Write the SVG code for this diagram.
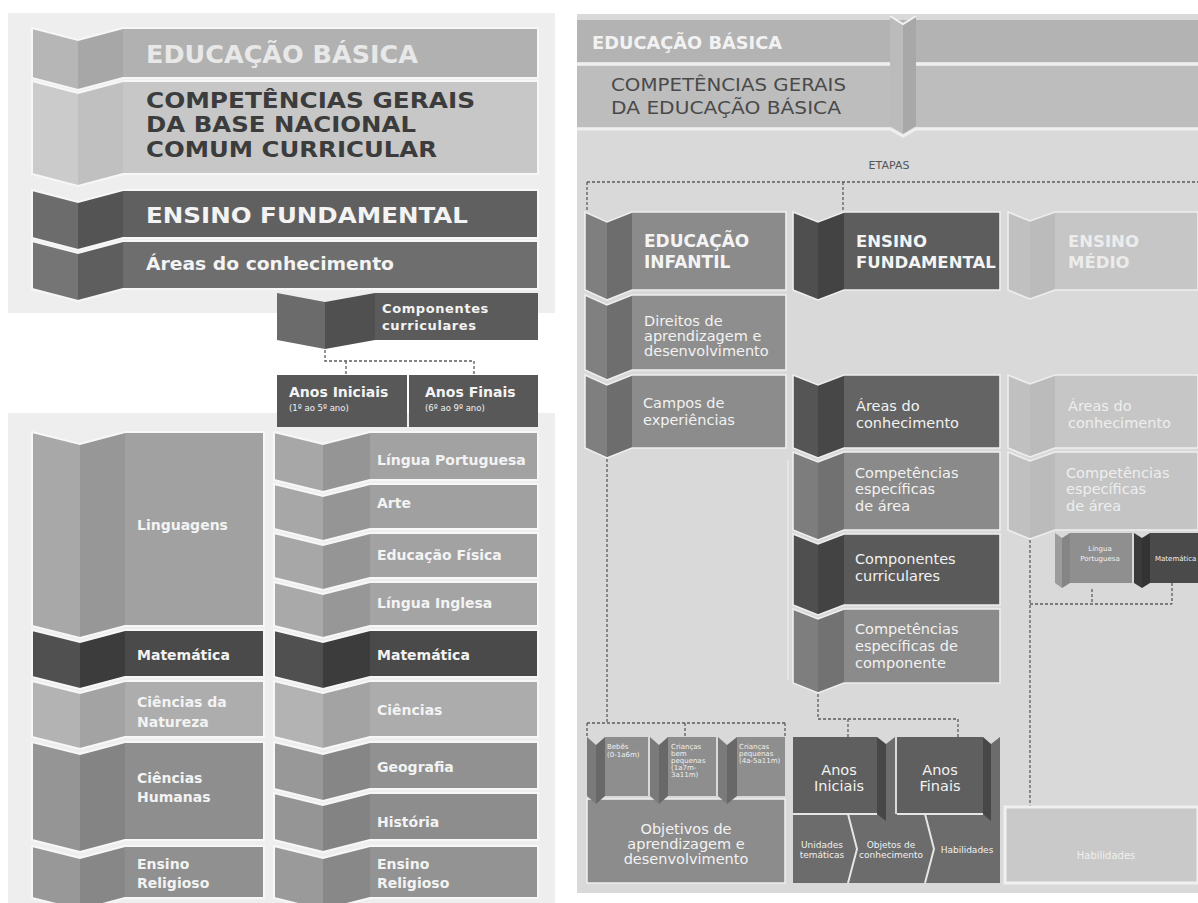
<svg xmlns="http://www.w3.org/2000/svg" width="1198" height="903" viewBox="0 0 1198 903">
<defs>
<style>
text{font-family:"DejaVu Sans","Liberation Sans",sans-serif}
.b{font-weight:bold}
.w{fill:#f3f3f3}
.ol{fill:none;stroke:#f7f7f7;stroke-width:2}
.olr{fill:none;stroke:#eeeeee;stroke-width:1.6}
.dash{fill:none;stroke:#5c5c5c;stroke-width:1.3;stroke-dasharray:3 2}
.lc{font-size:14px;font-weight:bold;fill:#f3f3f3}
.rc{font-size:14.5px;fill:#f2f2f2}
.em{font-size:14.5px;fill:#eeeeee}
.tiny{font-size:7px;fill:#f0f0f0}
.sm{font-size:9px;fill:#f0f0f0}
</style>
</defs>
<rect width="1198" height="903" fill="#ffffff"/>
<rect x="8" y="13" width="547" height="300" fill="#eeeeee"/>
<rect x="8" y="413" width="547" height="490" fill="#eeeeee"/>
<rect x="577" y="14" width="621" height="879" fill="#d9d9d9"/>

<!-- LEFT PANEL TOP -->
<g id="l-educacao-basica">
<polygon points="32,28 78,40 78,90 32,78" fill="#b6b6b6"/>
<polygon points="78,40 123,28 123,78 78,90" fill="#a7a7a7"/>
<rect x="123" y="28" width="415" height="50" fill="#b1b1b1"/>
<path class="ol" d="M32 28L78 40L123 28H538V78H123L78 90L32 78Z"/>
<text x="146" y="63" class="b" font-size="24" textLength="272" lengthAdjust="spacingAndGlyphs" fill="#e8e8e8">EDUCAÇÃO BÁSICA</text>
</g>
<g id="l-competencias">
<polygon points="32,81 78,93 78,186 32,174" fill="#cbcbcb"/>
<polygon points="78,93 123,81 123,174 78,186" fill="#c0c0c0"/>
<rect x="123" y="81" width="415" height="93" fill="#c7c7c7"/>
<path class="ol" d="M32 81L78 93L123 81H538V174H123L78 186L32 174Z"/>
<text class="b" font-size="21" fill="#3c3c3c">
<tspan x="146" y="108" textLength="329" lengthAdjust="spacingAndGlyphs">COMPETÊNCIAS GERAIS</tspan>
<tspan x="146" y="132" textLength="270" lengthAdjust="spacingAndGlyphs">DA BASE NACIONAL</tspan>
<tspan x="146" y="157" textLength="291" lengthAdjust="spacingAndGlyphs">COMUM CURRICULAR</tspan>
</text>
</g>
<g id="l-ensino-fundamental">
<polygon points="32,190 78,202 78,250 32,238" fill="#6c6c6c"/>
<polygon points="78,202 123,190 123,238 78,250" fill="#545454"/>
<rect x="123" y="190" width="415" height="48" fill="#606060"/>
<path class="ol" d="M32 190L78 202L123 190H538V238H123L78 250L32 238Z"/>
<text x="146" y="223" class="b w" font-size="21" textLength="322" lengthAdjust="spacingAndGlyphs">ENSINO FUNDAMENTAL</text>
</g>
<g id="l-areas">
<polygon points="32,241 78,253 78,301 32,289" fill="#757575"/>
<polygon points="78,253 123,241 123,289 78,301" fill="#5e5e5e"/>
<rect x="123" y="241" width="415" height="48" fill="#6e6e6e"/>
<path class="ol" d="M32 241L78 253L123 241H538V289H123L78 301L32 289Z"/>
<text x="146" y="270" class="b w" font-size="18" textLength="248" lengthAdjust="spacingAndGlyphs">Áreas do conhecimento</text>
</g>
<g id="l-componentes">
<polygon points="277,293 325,302 325,349 277,340" fill="#6b6b6b"/>
<polygon points="325,302 375,293 375,340 325,349" fill="#505050"/>
<rect x="375" y="293" width="163" height="47" fill="#5b5b5b"/>
<text class="b w" font-size="13" letter-spacing="0.6"><tspan x="382" y="313">Componentes</tspan><tspan x="382" y="330">curriculares</tspan></text>
</g>
<g id="l-anos-iniciais">
<rect x="277" y="375" width="130" height="52" fill="#585858"/>
<text x="289" y="397" class="b w" font-size="14">Anos Iniciais</text>
<text x="289" y="411" class="w" font-size="8.5">(1º ao 5º ano)</text>
</g>
<g id="l-anos-finais">
<rect x="409" y="375" width="129" height="52" fill="#585858"/>
<text x="425" y="397" class="b w" font-size="14">Anos Finais</text>
<text x="425" y="411" class="w" font-size="8.5">(6º ao 9º ano)</text>
</g>

<!-- LEFT PANEL LOWER: areas column -->
<g id="l-linguagens">
<polygon points="32,432 80,444 80,638 32,626" fill="#a8a8a8"/>
<polygon points="80,444 125,432 125,626 80,638" fill="#979797"/>
<rect x="125" y="432" width="139" height="194" fill="#a1a1a1"/>
<path class="ol" d="M32 432L80 444L125 432H264V626H125L80 638L32 626Z"/>
<text x="137" y="530" class="lc">Linguagens</text>
</g>
<g id="l-matematica-a">
<polygon points="32,630 80,642 80,689 32,677" fill="#505050"/>
<polygon points="80,642 125,630 125,677 80,689" fill="#3c3c3c"/>
<rect x="125" y="630" width="139" height="47" fill="#4a4a4a"/>
<path class="ol" d="M32 630L80 642L125 630H264V677H125L80 689L32 677Z"/>
<text x="137" y="660" class="lc">Matemática</text>
</g>
<g id="l-ciencias-natureza">
<polygon points="32,681 80,693 80,749 32,737" fill="#b3b3b3"/>
<polygon points="80,693 125,681 125,737 80,749" fill="#a3a3a3"/>
<rect x="125" y="681" width="139" height="56" fill="#adadad"/>
<path class="ol" d="M32 681L80 693L125 681H264V737H125L80 749L32 737Z"/>
<text class="lc"><tspan x="137" y="707">Ciências da</tspan><tspan x="137" y="727">Natureza</tspan></text>
</g>
<g id="l-ciencias-humanas">
<polygon points="32,742 80,754 80,852 32,840" fill="#959595"/>
<polygon points="80,754 125,742 125,840 80,852" fill="#848484"/>
<rect x="125" y="742" width="139" height="98" fill="#8e8e8e"/>
<path class="ol" d="M32 742L80 754L125 742H264V840H125L80 852L32 840Z"/>
<text class="lc"><tspan x="137" y="783">Ciências</tspan><tspan x="137" y="802">Humanas</tspan></text>
</g>
<g id="l-ensino-religioso-a">
<polygon points="32,846 80,858 80,910 32,898" fill="#989898"/>
<polygon points="80,858 125,846 125,898 80,910" fill="#878787"/>
<rect x="125" y="846" width="139" height="52" fill="#909090"/>
<path class="ol" d="M32 846L80 858L125 846H264V898H125L80 910L32 898Z"/>
<text class="lc"><tspan x="137" y="869">Ensino</tspan><tspan x="137" y="888">Religioso</tspan></text>
</g>

<!-- LEFT PANEL LOWER: components column -->
<g id="l-lingua-portuguesa">
<polygon points="274,432 323,444 323,492 274,480" fill="#a7a7a7"/>
<polygon points="323,444 370,432 370,480 323,492" fill="#959595"/>
<rect x="370" y="432" width="168" height="48" fill="#a2a2a2"/>
<path class="ol" d="M274 432L323 444L370 432H538V480H370L323 492L274 480Z"/>
<text x="377" y="465" class="lc">Língua Portuguesa</text>
</g>
<g id="l-arte">
<polygon points="274,484 323,496 323,541 274,529" fill="#a7a7a7"/>
<polygon points="323,496 370,484 370,529 323,541" fill="#959595"/>
<rect x="370" y="484" width="168" height="45" fill="#a0a0a0"/>
<path class="ol" d="M274 484L323 496L370 484H538V529H370L323 541L274 529Z"/>
<text x="377" y="508" class="lc">Arte</text>
</g>
<g id="l-educacao-fisica">
<polygon points="274,533 323,545 323,590 274,578" fill="#a7a7a7"/>
<polygon points="323,545 370,533 370,578 323,590" fill="#959595"/>
<rect x="370" y="533" width="168" height="45" fill="#a2a2a2"/>
<path class="ol" d="M274 533L323 545L370 533H538V578H370L323 590L274 578Z"/>
<text x="377" y="560" class="lc">Educação Física</text>
</g>
<g id="l-lingua-inglesa">
<polygon points="274,582 323,594 323,638 274,626" fill="#a9a9a9"/>
<polygon points="323,594 370,582 370,626 323,638" fill="#979797"/>
<rect x="370" y="582" width="168" height="44" fill="#a4a4a4"/>
<path class="ol" d="M274 582L323 594L370 582H538V626H370L323 638L274 626Z"/>
<text x="377" y="608" class="lc">Língua Inglesa</text>
</g>
<g id="l-matematica-b">
<polygon points="274,630 323,642 323,689 274,677" fill="#505050"/>
<polygon points="323,642 370,630 370,677 323,689" fill="#3c3c3c"/>
<rect x="370" y="630" width="168" height="47" fill="#4a4a4a"/>
<path class="ol" d="M274 630L323 642L370 630H538V677H370L323 689L274 677Z"/>
<text x="377" y="660" class="lc">Matemática</text>
</g>
<g id="l-ciencias">
<polygon points="274,681 323,693 323,749 274,737" fill="#b3b3b3"/>
<polygon points="323,693 370,681 370,737 323,749" fill="#a3a3a3"/>
<rect x="370" y="681" width="168" height="56" fill="#acacac"/>
<path class="ol" d="M274 681L323 693L370 681H538V737H370L323 749L274 737Z"/>
<text x="377" y="715" class="lc">Ciências</text>
</g>
<g id="l-geografia">
<polygon points="274,742 323,754 323,801 274,789" fill="#989898"/>
<polygon points="323,754 370,742 370,789 323,801" fill="#868686"/>
<rect x="370" y="742" width="168" height="47" fill="#919191"/>
<path class="ol" d="M274 742L323 754L370 742H538V789H370L323 801L274 789Z"/>
<text x="377" y="772" class="lc">Geografia</text>
</g>
<g id="l-historia">
<polygon points="274,793 323,805 323,852 274,840" fill="#959595"/>
<polygon points="323,805 370,793 370,840 323,852" fill="#838383"/>
<rect x="370" y="793" width="168" height="47" fill="#8d8d8d"/>
<path class="ol" d="M274 793L323 805L370 793H538V840H370L323 852L274 840Z"/>
<text x="377" y="827" class="lc">História</text>
</g>
<g id="l-ensino-religioso-b">
<polygon points="274,846 323,858 323,910 274,898" fill="#9a9a9a"/>
<polygon points="323,858 370,846 370,898 323,910" fill="#888888"/>
<rect x="370" y="846" width="168" height="52" fill="#939393"/>
<path class="ol" d="M274 846L323 858L370 846H538V898H370L323 910L274 898Z"/>
<text class="lc"><tspan x="377" y="869">Ensino</tspan><tspan x="377" y="888">Religioso</tspan></text>
</g>

<!-- RIGHT PANEL TOP -->
<g id="r-educacao-basica">
<rect x="577" y="20" width="621" height="42" fill="#b3b3b3"/>
<text x="592" y="49" class="b" font-size="17" textLength="190" lengthAdjust="spacingAndGlyphs" fill="#f2f2f2">EDUCAÇÃO BÁSICA</text>
</g>
<g id="r-competencias">
<rect x="577" y="66" width="621" height="61" fill="#bdbdbd"/>
<text font-size="17.5" fill="#4a4a4a">
<tspan x="611" y="91" textLength="235" lengthAdjust="spacingAndGlyphs">COMPETÊNCIAS GERAIS</tspan>
<tspan x="611" y="114" textLength="230" lengthAdjust="spacingAndGlyphs">DA EDUCAÇÃO BÁSICA</tspan>
</text>
</g>
<g id="r-fold">
<polyline points="577,64 890,64 903,71 916,64 1198,64" fill="none" stroke="#efefef" stroke-width="3"/>
<polyline points="577,129 890,129 903,136 916,129 1198,129" fill="none" stroke="#efefef" stroke-width="3"/>
<polygon points="890,16 903,24 903,134 890,126" fill="#bbbbbb"/>
<polygon points="903,24 916,16 916,126 903,134" fill="#a8a8a8"/>
<polyline points="890,16 903,24 916,16" fill="none" stroke="#f3f3f3" stroke-width="2"/>
</g>
<text id="r-etapas" x="889" y="169" text-anchor="middle" font-size="11" fill="#555555">ETAPAS</text>

<!-- CONNECTORS -->
<g id="connectors">
<path class="dash" d="M325 350V361H474M346 361V375M474 361V375"/>
<path class="dash" d="M587 182H1198M587 182V212M843 182V212"/>
<path class="dash" d="M607 459V723M587 723H785M587 723V737M685 723V737M785 723V737"/>
<path class="dash" d="M818 694V719H958M848 719V737M958 719V737"/>
<path class="dash" d="M1030 540V807M1030 604H1172M1092 589V604M1172 583V604"/>
</g>

<!-- RIGHT PANEL: EDUCAÇÃO INFANTIL column -->
<g id="r-educacao-infantil">
<polygon points="585,212 607,222 607,300 585,290" fill="#7f7f7f"/>
<polygon points="607,222 632,212 632,290 607,300" fill="#6d6d6d"/>
<rect x="632" y="212" width="154" height="78" fill="#8b8b8b"/>
<path class="olr" d="M585 212L607 222L632 212H786V290H632L607 300L585 290Z"/>
<text class="b" font-size="17" fill="#f4f4f4"><tspan x="644" y="247">EDUCAÇÃO</tspan><tspan x="644" y="268">INFANTIL</tspan></text>
</g>
<g id="r-direitos">
<polygon points="585,295 607,305 607,380 585,370" fill="#808080"/>
<polygon points="607,305 632,295 632,370 607,380" fill="#6e6e6e"/>
<rect x="632" y="295" width="154" height="75" fill="#8e8e8e"/>
<path class="olr" d="M585 295L607 305L632 295H786V370H632L607 380L585 370Z"/>
<text class="rc" font-size="14"><tspan x="644" y="326">Direitos de</tspan><tspan x="644" y="341">aprendizagem e</tspan><tspan x="644" y="356">desenvolvimento</tspan></text>
</g>
<g id="r-campos">
<polygon points="585,375 607,385 607,458 585,448" fill="#7f7f7f"/>
<polygon points="607,385 632,375 632,448 607,458" fill="#6d6d6d"/>
<rect x="632" y="375" width="154" height="73" fill="#8c8c8c"/>
<path class="olr" d="M585 375L607 385L632 375H786V448H632L607 458L585 448Z"/>
<text class="rc"><tspan x="643" y="408">Campos de</tspan><tspan x="643" y="425">experiências</tspan></text>
</g>
<line x1="788" y1="460" x2="788" y2="680" stroke="#e9e9e9" stroke-width="1.5"/>

<!-- RIGHT PANEL: ENSINO FUNDAMENTAL column -->
<g id="r-ensino-fundamental">
<polygon points="793,212 818,222 818,300 793,290" fill="#4f4f4f"/>
<polygon points="818,222 844,212 844,290 818,300" fill="#434343"/>
<rect x="844" y="212" width="156" height="78" fill="#5d5d5d"/>
<path class="olr" d="M793 212L818 222L844 212H1000V290H844L818 300L793 290Z"/>
<text class="b" font-size="16.5" fill="#f4f4f4"><tspan x="856" y="247">ENSINO</tspan><tspan x="856" y="268">FUNDAMENTAL</tspan></text>
</g>
<g id="r-ef-areas">
<polygon points="793,375 818,385 818,458 793,448" fill="#555555"/>
<polygon points="818,385 844,375 844,448 818,458" fill="#474747"/>
<rect x="844" y="375" width="156" height="73" fill="#646464"/>
<path class="olr" d="M793 375L818 385L844 375H1000V448H844L818 458L793 448Z"/>
<text class="rc"><tspan x="856" y="411">Áreas do</tspan><tspan x="856" y="428">conhecimento</tspan></text>
</g>
<g id="r-ef-comp-area">
<polygon points="793,452 818,462 818,540 793,530" fill="#7d7d7d"/>
<polygon points="818,462 844,452 844,530 818,540" fill="#717171"/>
<rect x="844" y="452" width="156" height="78" fill="#8a8a8a"/>
<path class="olr" d="M793 452L818 462L844 452H1000V530H844L818 540L793 530Z"/>
<text class="rc"><tspan x="855" y="478">Competências</tspan><tspan x="855" y="494">específicas</tspan><tspan x="855" y="511">de área</tspan></text>
</g>
<g id="r-ef-componentes">
<polygon points="793,534 818,544 818,615 793,605" fill="#4f4f4f"/>
<polygon points="818,544 844,534 844,605 818,615" fill="#434343"/>
<rect x="844" y="534" width="156" height="71" fill="#5a5a5a"/>
<path class="olr" d="M793 534L818 544L844 534H1000V605H844L818 615L793 605Z"/>
<text class="rc"><tspan x="855" y="564">Componentes</tspan><tspan x="855" y="581">curriculares</tspan></text>
</g>
<g id="r-ef-comp-componente">
<polygon points="793,609 818,619 818,693 793,683" fill="#7e7e7e"/>
<polygon points="818,619 844,609 844,683 818,693" fill="#727272"/>
<rect x="844" y="609" width="156" height="74" fill="#8b8b8b"/>
<path class="olr" d="M793 609L818 619L844 609H1000V683H844L818 693L793 683Z"/>
<text class="rc"><tspan x="855" y="634">Competências</tspan><tspan x="855" y="651">específicas de</tspan><tspan x="855" y="668">componente</tspan></text>
</g>

<!-- RIGHT PANEL: ENSINO MÉDIO column -->
<g id="r-ensino-medio">
<polygon points="1008,212 1030,221 1030,299 1008,290" fill="#c0c0c0"/>
<polygon points="1030,221 1055,212 1055,290 1030,299" fill="#bbbbbb"/>
<rect x="1055" y="212" width="143" height="78" fill="#c6c6c6"/>
<path class="olr" d="M1008 212L1030 221L1055 212H1198V290H1055L1030 299L1008 290Z"/>
<text class="b" font-size="16.5" fill="#ececec"><tspan x="1068" y="247">ENSINO</tspan><tspan x="1068" y="268">MÉDIO</tspan></text>
</g>
<g id="r-em-areas">
<polygon points="1008,375 1030,384 1030,457 1008,448" fill="#c0c0c0"/>
<polygon points="1030,384 1055,375 1055,448 1030,457" fill="#bbbbbb"/>
<rect x="1055" y="375" width="143" height="73" fill="#c6c6c6"/>
<path class="olr" d="M1008 375L1030 384L1055 375H1198V448H1055L1030 457L1008 448Z"/>
<text class="em"><tspan x="1068" y="411">Áreas do</tspan><tspan x="1068" y="428">conhecimento</tspan></text>
</g>
<g id="r-em-comp-area">
<polygon points="1008,452 1030,461 1030,539 1008,530" fill="#c0c0c0"/>
<polygon points="1030,461 1055,452 1055,530 1030,539" fill="#bbbbbb"/>
<rect x="1055" y="452" width="143" height="78" fill="#c4c4c4"/>
<path class="olr" d="M1008 452L1030 461L1055 452H1198V530H1055L1030 539L1008 530Z"/>
<text class="em"><tspan x="1066" y="478">Competências</tspan><tspan x="1066" y="494">específicas</tspan><tspan x="1066" y="511">de área</tspan></text>
</g>
<g id="r-em-lingua-portuguesa">
<polygon points="1055,533 1062,538 1062,588 1055,583" fill="#9c9c9c"/>
<polygon points="1062,538 1070,533 1070,583 1062,588" fill="#858585"/>
<rect x="1070" y="533" width="62" height="50" fill="#8f8f8f"/>
<text class="tiny" text-anchor="middle" font-size="7.5"><tspan x="1100" y="551">Língua</tspan><tspan x="1100" y="561">Portuguesa</tspan></text>
</g>
<g id="r-em-matematica">
<polygon points="1134,533 1142,538 1142,588 1134,583" fill="#3a3a3a"/>
<polygon points="1142,538 1150,533 1150,583 1142,588" fill="#333333"/>
<rect x="1150" y="533" width="48" height="50" fill="#4a4a4a"/>
<text x="1155" y="561" class="tiny" font-size="7.5">Matemática</text>
</g>

<!-- RIGHT PANEL BOTTOM: EDUCAÇÃO INFANTIL -->
<g id="r-objetivos">
<rect x="587" y="799" width="198" height="84" fill="#8c8c8c" stroke="#eeeeee" stroke-width="1.5"/>
<text class="rc" font-size="14" text-anchor="middle"><tspan x="686" y="834">Objetivos de</tspan><tspan x="686" y="849">aprendizagem e</tspan><tspan x="686" y="864">desenvolvimento</tspan></text>
</g>
<g id="r-bebes">
<polygon points="587,737 596,745 596,804 587,796" fill="#7a7a7a"/>
<polygon points="596,745 605,737 605,796 596,804" fill="#686868"/>
<rect x="605" y="737" width="43" height="59" fill="#8e8e8e"/>
<text class="tiny"><tspan x="607" y="749">Bebês</tspan><tspan x="607" y="757">(0-1a6m)</tspan></text>
</g>
<g id="r-criancas-bem-pequenas">
<polygon points="650,737 659,745 659,804 650,796" fill="#7a7a7a"/>
<polygon points="659,745 668,737 668,796 659,804" fill="#686868"/>
<rect x="668" y="737" width="48" height="59" fill="#8e8e8e"/>
<text class="tiny"><tspan x="671" y="749">Crianças</tspan><tspan x="671" y="756">bem</tspan><tspan x="671" y="763">pequenas</tspan><tspan x="671" y="770">(1a7m-</tspan><tspan x="671" y="777">3a11m)</tspan></text>
</g>
<g id="r-criancas-pequenas">
<polygon points="718,737 727,745 727,804 718,796" fill="#7a7a7a"/>
<polygon points="727,745 737,737 737,796 727,804" fill="#686868"/>
<rect x="737" y="737" width="48" height="59" fill="#8e8e8e"/>
<text class="tiny"><tspan x="739" y="749">Crianças</tspan><tspan x="739" y="756">pequenas</tspan><tspan x="739" y="763">(4a-5a11m)</tspan></text>
</g>

<!-- RIGHT PANEL BOTTOM: ENSINO FUNDAMENTAL -->
<g id="r-unidades-objetos-habilidades">
<rect x="793" y="814" width="207" height="69" fill="#6c6c6c"/>
<polyline points="848,814 857,849 848,883" fill="none" stroke="#e6e6e6" stroke-width="2"/>
<polyline points="925,814 934,849 925,883" fill="none" stroke="#e6e6e6" stroke-width="2"/>
<text class="sm" text-anchor="middle"><tspan x="822" y="848">Unidades</tspan><tspan x="822" y="858">temáticas</tspan></text>
<text class="sm" text-anchor="middle"><tspan x="891" y="848">Objetos de</tspan><tspan x="891" y="858">conhecimento</tspan></text>
<text class="sm" x="967" y="853" text-anchor="middle">Habilidades</text>
</g>
<g id="r-anos-iniciais">
<rect x="793" y="737" width="84" height="77" fill="#5f5f5f"/>
<polygon points="877,737 886,744 886,821 877,814" fill="#474747"/>
<polygon points="886,744 895,737 895,814 886,821" fill="#6c6c6c"/>
<line x1="793" y1="814" x2="877" y2="814" stroke="#e6e6e6" stroke-width="2"/>
<text class="rc" font-size="15" text-anchor="middle"><tspan x="839" y="775">Anos</tspan><tspan x="839" y="791">Iniciais</tspan></text>
</g>
<g id="r-anos-finais">
<rect x="897" y="737" width="86" height="77" fill="#5f5f5f"/>
<polygon points="983,737 991,744 991,821 983,814" fill="#474747"/>
<polygon points="991,744 1000,737 1000,814 991,821" fill="#6c6c6c"/>
<line x1="897" y1="814" x2="983" y2="814" stroke="#e6e6e6" stroke-width="2"/>
<text class="rc" font-size="15" text-anchor="middle"><tspan x="940" y="775">Anos</tspan><tspan x="940" y="791">Finais</tspan></text>
</g>

<!-- RIGHT PANEL BOTTOM: ENSINO MÉDIO -->
<g id="r-em-habilidades">
<rect x="1005" y="807" width="193" height="76" fill="#c9c9c9" stroke="#f0f0f0" stroke-width="3"/>
<text x="1106" y="859" text-anchor="middle" font-size="10" fill="#efefef">Habilidades</text>
</g>
</svg>
